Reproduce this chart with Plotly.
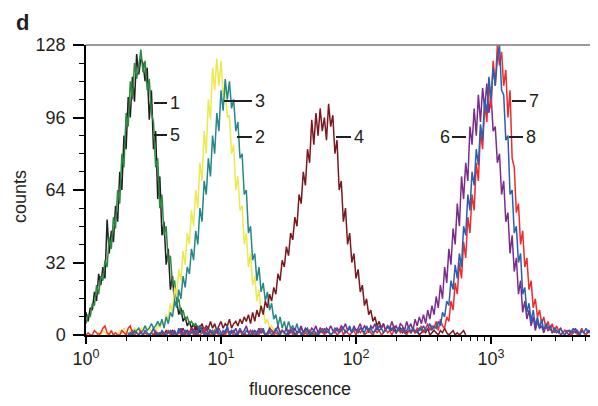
import plotly.graph_objects as go

# ---------------- data ----------------
# log-scaled flow-cytometry histograms: 64 channels per decade,
# channel c corresponds to fluorescence 10**(c/64)
CHANNELS_PER_DECADE = 64

labels = ["1", "5", "3", "2", "4", "6", "7", "8"]

start_1 = 0
counts_1 = [10, 6, 12, 11, 19, 15, 27, 22, 30, 25, 51, 36, 46, 41, 57, 50, 72, 64, 88, 82,
            105, 96, 114, 103, 124, 115, 122, 120, 112, 118, 95, 108, 82, 90, 60, 70, 44, 50, 31, 38,
            20, 26, 13, 15, 9, 12, 6, 8, 4, 6, 3, 5, 2, 4, 1, 3, 2, 1, 0]

start_5 = 0
counts_5 = [5, 9, 8, 14, 13, 22, 18, 26, 24, 33, 30, 43, 38, 52, 47, 64, 58, 80, 74, 98,
            92, 112, 104, 120, 113, 118, 126, 116, 121, 108, 113, 98, 94, 74, 78, 56, 62, 44, 48, 32,
            35, 22, 24, 14, 16, 9, 11, 7, 8, 5, 6, 4, 5, 3, 4, 2, 3, 2, 3, 1, 2, 1, 2, 0]

start_3 = 5
counts_3 = [0, 1, 0, 2, 1, 0, 1, 2, 0, 1, 0, 2, 1, 3, 1, 0, 2, 1, 3, 2, 1, 3, 2, 4, 2,
            3, 1, 4, 2, 5, 3, 6, 4, 9, 7,
            14, 10, 21, 17, 29, 24, 37, 31, 45, 40,
            55, 48, 64, 56, 76, 68, 90, 80, 104, 95,
            118, 108, 122, 110, 121, 106, 109, 96, 97, 80,
            84, 64, 70, 55, 57, 40, 45, 30, 36, 22,
            26, 15, 20, 10, 12, 5, 7, 3, 4, 2, 3, 1, 2, 1, 0]

start_2 = 20
counts_2 = [1, 0, 2, 1, 2, 3, 1, 2, 4, 2, 3, 5, 3, 4, 6, 4,
            7, 3, 8, 5, 10, 8, 15, 12, 20, 16,
            26, 21, 30, 27, 38, 33, 46, 40, 56, 50,
            68, 62, 78, 70, 88, 80, 98, 90, 108, 99,
            113, 104, 112, 100, 104, 90, 94, 78, 80, 62,
            64, 45, 48, 33, 36, 24, 30, 19, 23, 15,
            19, 11, 14, 7, 9, 4, 8, 3, 6, 2,
            6, 3, 4, 2, 5, 1, 3, 1, 2, 1, 2, 0, 1, 0]

start_4 = 30
counts_4 = [0, 1, 0, 1, 0, 1, 1, 0, 2, 1, 1, 2, 1, 0, 2, 1, 3, 1, 2, 1,
            3, 2, 4, 2, 3, 5, 2, 4, 3, 6, 3, 5, 2, 4, 6, 3, 5, 4, 7, 3,
            5, 6, 4, 7, 5, 8, 6, 9,
            5, 10, 6, 11, 8, 13, 9, 15, 12, 18,
            15, 21, 18, 27, 24, 33, 30, 39, 35, 45,
            42, 52, 48, 62, 58, 72, 66, 82, 76, 95,
            84, 98, 88, 100, 90, 96, 86, 102, 92, 97,
            80, 86, 64, 68, 50, 56, 40, 45, 32, 36,
            25, 29, 19, 22, 13, 16, 9, 11, 6, 8,
            4, 6, 3, 5, 2, 4, 3, 2, 4, 1, 2, 3, 1, 2, 1,
            2, 1, 3, 1, 2, 0, 1, 2, 1, 3, 0, 1, 2, 1, 0, 2, 1, 3, 1, 0, 1, 2, 0, 1, 0, 1, 2, 0]

start_6 = 40
counts_6 = [0, 1, 2, 0, 1, 3, 1, 0, 2, 1, 3, 1, 2, 0, 4, 2, 1, 3, 1, 2,
            0, 2, 1, 3, 1, 0, 2, 3, 1, 2, 1, 3, 0, 2, 1, 2, 4, 1, 2, 0,
            2, 1, 3, 1, 2, 0, 1, 3, 2, 1, 2, 4, 1, 2, 1, 3, 0, 2, 1, 3,
            1, 2, 4, 1, 3, 2, 1, 3, 2, 4, 1, 3, 2, 1, 3, 2, 4, 2, 1, 3,
            2, 4, 3, 5, 2, 3, 1, 4, 2, 3, 5, 2, 4, 3, 1, 4, 3, 5, 2, 4,
            3, 5, 2, 4, 3, 6, 3, 4, 2, 5,
            4, 2, 6, 3, 5, 2, 7, 4, 8, 5,
            9, 5, 11, 7, 13, 9, 17, 12, 22, 16,
            30, 23, 38, 31, 47, 40, 58, 48, 70, 60,
            76, 68, 92, 84, 100, 88, 106, 94, 109, 100,
            111, 98, 106, 90, 92, 76, 80, 62, 68, 50,
            54, 36, 44, 28, 34, 18, 24, 10, 15, 7,
            11, 4, 8, 2, 6, 3, 4, 1, 4, 2,
            3, 1, 2, 1, 2, 0, 1, 2, 1, 0, 2, 1, 3, 1, 0, 2, 1, 0, 2, 1]

start_7 = 0
counts_7 = [0, 1, 0, 0, 2, 1, 0, 1, 3, 4, 1, 0, 2, 0, 1, 0, 0, 2, 1, 0,
            3, 4, 1, 0, 1, 0, 2, 0, 1, 0, 0, 1, 0, 2, 0, 1, 0, 0, 1, 2,
            0, 1, 0, 0, 2, 0, 1, 0, 0, 1, 2, 0, 1, 0, 0, 1, 3, 0, 1, 0,
            0, 2, 1, 0, 0, 1, 0, 2, 0, 1, 0, 0, 1, 2, 0, 1, 0, 0, 2, 1,
            0, 1, 0, 3, 1, 0, 0, 1, 2, 0, 1, 0, 0, 2, 1, 0, 1, 3, 0, 1,
            0, 2, 1, 0, 1, 0, 2, 1, 0, 1, 0, 1, 3, 0, 2, 1, 0, 1, 2, 0,
            1, 3, 0, 2, 1, 0, 1, 2, 0, 3, 1, 2, 0, 1, 3, 1, 0, 2, 1, 2,
            0, 1, 3, 1, 2, 0, 2, 1, 3, 1, 2, 1, 0, 2, 1,
            2, 1, 3, 2, 4, 1, 3, 5, 2, 4,
            3, 6, 2, 7, 4, 3, 8, 6, 15, 11,
            23, 18, 32, 25, 41, 34, 52, 45, 62, 55,
            76, 68, 90, 82, 102, 94, 112, 100, 121, 110,
            128, 119, 125, 110, 117, 96, 108, 78, 74, 54,
            58, 40, 46, 30, 34, 20, 24, 12, 16, 8,
            11, 5, 8, 3, 6, 2, 5, 1, 4, 2,
            3, 1, 2, 1, 2, 0, 1, 2, 0, 1, 3, 1, 0, 2, 1, 2]

start_8 = 20
counts_8 = [0, 1, 0, 2, 1, 0, 1, 0, 2, 1, 0, 1, 3, 0, 1, 0, 2, 1, 0, 1,
            2, 0, 1, 0, 3, 1, 0, 2, 1, 0, 1, 2, 0, 1, 4, 2, 0, 1, 0, 2,
            1, 0, 3, 1, 0, 2, 1, 4, 0, 1, 2, 0, 1, 3, 1, 0, 2, 1, 0, 2,
            1, 0, 2, 1, 3, 0, 1, 2, 0, 1, 3, 1, 0, 2, 1, 0, 2, 1, 3, 0,
            1, 2, 0, 1, 2, 3, 0, 1, 2, 1, 0, 2, 1, 3, 1, 2, 0, 1, 3, 2,
            1, 2, 3, 1, 2, 4, 1, 3, 2, 1, 3, 2, 1, 4, 2, 3, 1, 2, 4, 2,
            3, 1, 2, 4, 2, 3, 2, 1, 3, 2,
            3, 1, 2, 4, 1, 3, 2, 1, 3, 2,
            4, 2, 3, 5, 2, 4, 3, 6, 4, 10,
            8, 15, 13, 24, 20, 31, 25, 36, 30, 48,
            44, 62, 55, 72, 66, 82, 75, 93, 86, 104,
            98, 114, 104, 118, 110, 122, 128, 108, 106, 86,
            88, 62, 64, 45, 48, 32, 36, 18, 21, 10,
            14, 6, 11, 4, 8, 3, 7, 2, 5, 3,
            4, 1, 3, 2, 1, 3, 1, 0, 2, 2, 1, 3, 1, 2, 0, 2, 1, 3, 1, 2, 1]

series = [
    ("1", start_1, counts_1), ("5", start_5, counts_5),
    ("3", start_3, counts_3), ("2", start_2, counts_2),
    ("4", start_4, counts_4), ("6", start_6, counts_6),
    ("7", start_7, counts_7), ("8", start_8, counts_8),
]

x_tick_values = [1, 10, 100, 1000]
x_tick_text = ["10<sup>0</sup>", "10<sup>1</sup>", "10<sup>2</sup>", "10<sup>3</sup>"]
y_tick_values = [0, 32, 64, 96, 128]

# ---------------- styles ----------------
colors = {
    "1": "#231f20", "5": "#2b8a3e", "3": "#ece94c", "2": "#25898b",
    "4": "#7a1a20", "6": "#7c2c8c", "7": "#ef2b2d", "8": "#2c5faf",
}

FONT = "Liberation Sans, Arial, Helvetica, sans-serif"
INK = "#231f20"

fig = go.Figure()
for name, start, counts in series:
    xs = [10 ** ((start + i) / CHANNELS_PER_DECADE) for i in range(len(counts))]
    fig.add_trace(go.Scatter(x=xs, y=counts, mode="lines", name=name,
                             line=dict(color=colors[name], width=1.5),
                             hoverinfo="skip"))

# Screen geometry: the page body has an 8 px default margin, so the figure
# starts at (8, 8) in the window.  Plot area (window pixels):
OFF = 8
L, R, T, B = 86, 595, 45, 335
W, H = 598 - OFF, 406 - OFF


def px(xp):
    return (xp - L) / (R - L)


def py(yp):
    return (B - yp) / (B - T)


fig.update_layout(
    width=W, height=H,
    margin=dict(l=L - OFF, r=W - (R - OFF), t=T - OFF, b=H - (B - OFF)),
    paper_bgcolor="white", plot_bgcolor="white",
    showlegend=False,
    font=dict(family=FONT, size=17, color=INK),
)

minor_x = [m * 10 ** d for d in range(4) for m in range(2, 10) if m * 10 ** d < 6000]

fig.update_xaxes(
    type="log", range=[0, 3.77],
    tickmode="array", tickvals=x_tick_values, ticktext=x_tick_text,
    ticks="outside", ticklen=7, tickwidth=1.5, tickcolor="black",
    tickfont=dict(size=18, family=FONT, color=INK),
    showline=True, linecolor="black", linewidth=1.5,
    showgrid=False, zeroline=False,
    minor=dict(tickmode="array", tickvals=minor_x, ticks="outside",
               ticklen=4, tickwidth=1.2, tickcolor="black", showgrid=False),
)
fig.update_yaxes(
    range=[0, 128],
    tickmode="array", tickvals=y_tick_values,
    ticks="outside", ticklen=11, tickwidth=1.5, tickcolor="black",
    tickfont=dict(size=18, family=FONT, color=INK),
    ticklabelstandoff=4,
    showline=True, linecolor="black", linewidth=1.5,
    showgrid=False, zeroline=False,
    minor=dict(dtick=8, ticks="outside", ticklen=5, tickwidth=1.2,
               tickcolor="black", showgrid=False),
)

# grey top and right frame
fig.add_shape(type="line", xref="paper", yref="paper", x0=0, x1=1, y0=1, y1=1,
              line=dict(color="#7a7a7a", width=1.6))
fig.add_shape(type="line", xref="paper", yref="paper", x0=1, x1=1, y0=0, y1=1,
              line=dict(color="#7a7a7a", width=1.6))

# curve labels with leader lines: (text, text side, line x0, line x1, y) in window pixels
curve_labels = [
    ("1", "right", 154, 167, 103),
    ("5", "right", 154, 167, 135),
    ("3", "right", 224, 252, 101),
    ("2", "right", 237, 252, 137),
    ("4", "right", 336, 351, 137),
    ("6", "left", 452, 466, 137),
    ("7", "right", 512, 526, 101),
    ("8", "right", 509, 523, 137),
]
for text, side, x0, x1, yy in curve_labels:
    fig.add_shape(type="line", xref="paper", yref="paper",
                  x0=px(x0), x1=px(x1), y0=py(yy), y1=py(yy),
                  line=dict(color=INK, width=2))
    if side == "right":
        fig.add_annotation(xref="paper", yref="paper", x=px(x1 + 0.5), y=py(yy),
                           text=text, showarrow=False, xanchor="left", yanchor="middle",
                           font=dict(size=18, family=FONT, color=INK))
    else:
        fig.add_annotation(xref="paper", yref="paper", x=px(x0 - 0.5), y=py(yy),
                           text=text, showarrow=False, xanchor="right", yanchor="middle",
                           font=dict(size=18, family=FONT, color=INK))

# axis titles and panel letter
fig.add_annotation(xref="paper", yref="paper", x=px(300), y=py(389),
                   text="fluorescence", showarrow=False, xanchor="center", yanchor="middle",
                   font=dict(size=18, family=FONT, color=INK))
fig.add_annotation(xref="paper", yref="paper", x=px(20), y=py(197),
                   text="counts", textangle=-90, showarrow=False,
                   xanchor="center", yanchor="middle",
                   font=dict(size=18, family=FONT, color=INK))
fig.add_annotation(xref="paper", yref="paper", x=px(22), y=py(OFF),
                   text="<b>d</b>", showarrow=False, xanchor="center", yanchor="top",
                   font=dict(size=22, family=FONT, color=INK))

fig.write_html("out.html")
